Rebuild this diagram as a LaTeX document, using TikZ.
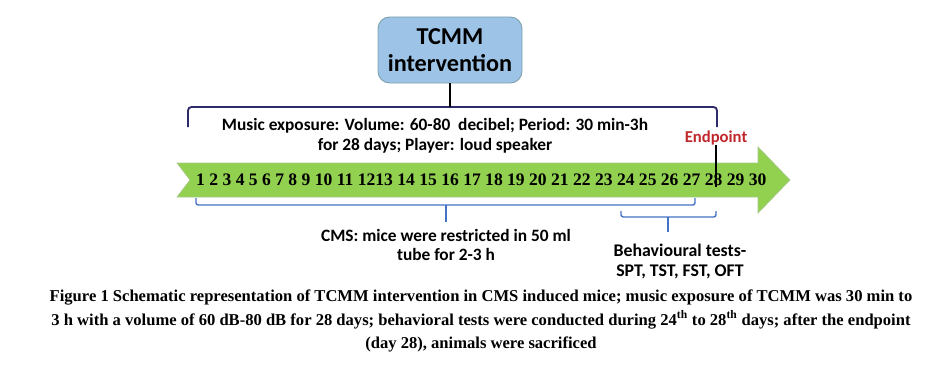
\documentclass[tikz,border=0pt]{standalone}
\usepackage{fontspec}
\setmainfont{Carlito}
\newfontfamily\timesfont{Liberation Serif}
\usepackage{xcolor}

\definecolor{boxblue}{HTML}{9DC3E6}
\definecolor{boxedge}{HTML}{7FA3AE}
\definecolor{arrowgreen}{HTML}{92D050}
\definecolor{arrowedge}{HTML}{A9C98A}
\definecolor{navy}{HTML}{2E2B6B}
\definecolor{braceblue}{HTML}{4472C4}
\definecolor{endred}{HTML}{C0272D}

\tikzset{
  box/.style={draw=boxedge, fill=boxblue, rounded corners=10pt, line width=0.8pt,
    minimum width=4.32cm, minimum height=1.98cm, align=center,
    font=\bfseries\fontsize{20.7}{23}\selectfont},
  infotext/.style={align=center, inner sep=0pt, font=\bfseries\fontsize{14.8}{17}\selectfont},
  topbrace/.style={draw=navy, line width=1.6pt, rounded corners=3pt},
  lowbrace/.style={draw=braceblue, line width=1.2pt, rounded corners=2pt},
  stem/.style={draw=black, line width=1.5pt},
  daynums/.style={inner sep=0pt, font=\timesfont\bfseries\fontsize{15}{17}\selectfont},
  caption/.style={align=center, inner sep=0pt, font=\timesfont\bfseries\fontsize{14.15}{20.4}\selectfont}
}

\begin{document}
\begin{tikzpicture}[x=0.03cm,y=-0.03cm]
        \useasboundingbox (0,0) rectangle (952,366);

        %% Timeline arrow
        \filldraw[fill=arrowgreen, draw=arrowedge, line width=0.6pt]
          (177,163) -- (758,163) -- (758,147) -- (790,180) -- (758,213)
          -- (758,197) -- (177,197) -- (190,180) -- cycle;
        \node[daynums, anchor=base west] (days) at (196,185)
          {1 2 3 4 5 6 7 8 9 10 11 1213 14 15 16 17 18 19 20 21 22 23 24 25 26 27 28 29 30};

        % Intervention box
        \node[box] (tcmm) at (450,50) {TCMM\\intervention};

        % Top brace
        \coordinate (tla) at (188,127);
        \coordinate (tlb) at (188,107);
        \coordinate (trb) at (717,107);
        \coordinate (tra) at (717,127);
        \draw[topbrace] (tla) -- (tlb) -- (trb) -- (tra);
        \draw[stem] (tcmm.south) -- (tcmm.south |- tlb);
        \node[infotext] (music) at (435,136)
          {Music exposure: Volume: 60-80~ decibel; Period: 30 min-3h\\for 28 days; Player: loud speaker};

        % Endpoint
        \node[infotext, anchor=base, text=endred, font=\bfseries\fontsize{14.2}{17}\selectfont]
          (endpoint) at (716,142) {Endpoint};
        \coordinate (endmark) at (716,187);
        \draw[stem] (endpoint.south) -- (endmark);

        % CMS brace
        \coordinate (cla) at (196,198);
        \coordinate (clb) at (196,205);
        \coordinate (crb) at (695,205);
        \coordinate (cra) at (695,198);
        \coordinate (cmid) at (446,205);
        \coordinate (ctip) at (446,222);
        \draw[lowbrace] (cla) -- (clb) -- (crb) -- (cra);
        \draw[lowbrace] (cmid) -- (ctip);
        \node[infotext] (cms) at (446,245) {CMS: mice were restricted in 50 ml\\tube for 2-3 h};

        % Behavioural brace
        \coordinate (bla) at (621,211);
        \coordinate (blb) at (621,217);
        \coordinate (brb) at (716,217);
        \coordinate (bra) at (716,211);
        \coordinate (bmid) at (668,217);
        \coordinate (btip) at (668,232);
        \draw[lowbrace] (bla) -- (blb) -- (brb) -- (bra);
        \draw[lowbrace] (bmid) -- (btip);
        \node[infotext, font=\bfseries\fontsize{15.2}{17}\selectfont] (tests) at (680,261)
          {Behavioural tests-\\SPT, TST, FST, OFT};

        % Caption
        \node[caption] (cap) at (481,321)
          {Figure 1 Schematic representation of TCMM intervention in CMS induced mice; music exposure of TCMM was 30 min to\\
           3 h with a volume of 60 dB-80 dB for 28 days; behavioral tests were conducted during 24\textsuperscript{th} to 28\textsuperscript{th} days; after the endpoint\\
           (day 28), animals were sacrificed};
\end{tikzpicture}
\end{document}
